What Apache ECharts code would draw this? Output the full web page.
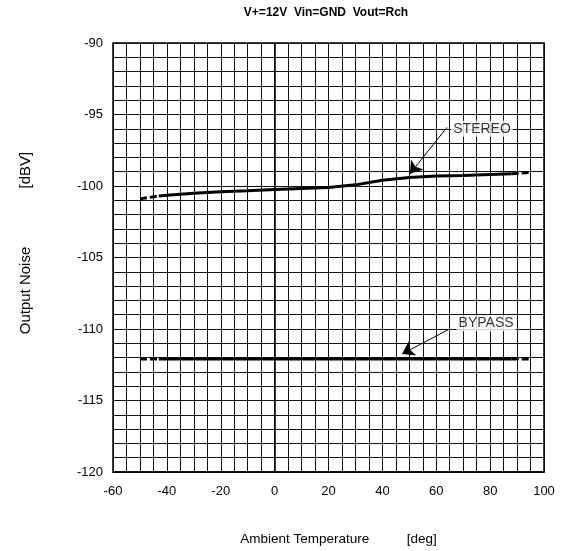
<!DOCTYPE html>
<html>
<head>
<meta charset="utf-8">
<script src="https://cdn.jsdelivr.net/npm/echarts@6/dist/echarts.min.js"></script>
<style>
html,body{margin:0;padding:0;background:#fff;}
#chart{width:561px;height:551px;}
</style>
</head>
<body>
<div id="chart"></div>
<script>
// ---- data ----
var titleText = 'V+=12V  Vin=GND  Vout=Rch';
var xAxisName = 'Ambient Temperature          [deg]';
var yAxisName = 'Output Noise              [dBV]';

var stereoTemp  = [-50, -43, -40, -30, -20, -10, 0, 10, 20, 30, 40, 50, 60, 70, 80, 88, 95];
var stereoNoise = [-100.9, -100.7, -100.64, -100.5, -100.4, -100.33, -100.25, -100.17, -100.1, -99.92, -99.6, -99.4, -99.3, -99.26, -99.2, -99.15, -99.05];

var bypassTemp  = [-50, -43, 88, 95];
var bypassNoise = [-112.1, -112.1, -112.1, -112.1];

var stereoLabel = ['STEREO', 77, -96];
var bypassLabel = ['BYPASS', 78.5, -109.6];
var stereoArrow = [[64, -95.9], [50.2, -99.15]];
var bypassArrow = [[64.4, -110.05], [47.3, -111.75]];

// ---- build ----
function pts(xs, ys, a, b) {
  var out = [];
  for (var i = a; i <= b; i++) out.push([xs[i], ys[i]]);
  return out;
}
var FONT = "'Liberation Sans', Arial, sans-serif";
var lw = 3;

function lineSeries(data, dashed) {
  return {
    type: 'line', data: data, showSymbol: false, symbol: 'none', silent: true,
    lineStyle: { color: '#000', width: lw, type: dashed ? [7, 3] : 'solid' },
    z: 5
  };
}

var sN = stereoTemp.length, bN = bypassTemp.length;
var series = [
  lineSeries(pts(stereoTemp, stereoNoise, 0, 1), true),
  lineSeries(pts(stereoTemp, stereoNoise, 1, sN - 2), false),
  lineSeries(pts(stereoTemp, stereoNoise, sN - 2, sN - 1), true),
  lineSeries(pts(bypassTemp, bypassNoise, 0, 1), true),
  lineSeries(pts(bypassTemp, bypassNoise, 1, bN - 2), false),
  lineSeries(pts(bypassTemp, bypassNoise, bN - 2, bN - 1), true),
  {
    type: 'lines', coordinateSystem: 'cartesian2d', silent: true, z: 6,
    symbol: ['none', 'arrow'], symbolSize: [0, 12],
    lineStyle: { color: '#000', width: 1, opacity: 1 },
    data: [{ coords: stereoArrow }, { coords: bypassArrow }]
  },
  {
    type: 'scatter', symbolSize: 0, silent: true, z: 7,
    data: [
      { value: [stereoLabel[1], stereoLabel[2]], name: stereoLabel[0] },
      { value: [bypassLabel[1], bypassLabel[2]], name: bypassLabel[0] }
    ],
    label: {
      show: true, position: 'inside', formatter: '{b}',
      color: '#000', fontSize: 14, fontFamily: FONT,
      backgroundColor: '#fff', padding: [1, 2]
    }
  }
];

var chart = echarts.init(document.getElementById('chart'), null, { renderer: 'canvas' });
chart.setOption({
  animation: false,
  backgroundColor: '#fff',
  grid: { left: 113, right: 17, top: 43, bottom: 78, show: true, borderColor: '#000', borderWidth: 1.5 },
  graphic: [{
    type: 'text', x: 326, y: 13,
    style: { text: titleText, textAlign: 'center', textVerticalAlign: 'middle',
      font: "bold 12px 'Liberation Sans', Arial, sans-serif", fill: '#000' }
  }],
  xAxis: {
    type: 'value', min: -60, max: 100, interval: 20,
    name: xAxisName, nameLocation: 'middle', nameGap: 60,
    nameTextStyle: { color: '#000', fontSize: 13.5, fontFamily: FONT, padding: [0, 0, 0, 20] },
    axisLine: { show: true, lineStyle: { color: '#000', width: 1.5 } },
    axisTick: { show: false },
    axisLabel: { color: '#000', fontSize: 13, fontFamily: FONT, margin: 13 },
    splitLine: { show: true, lineStyle: { color: '#111', width: 1 } },
    minorTick: { show: false, splitNumber: 4 },
    minorSplitLine: { show: true, lineStyle: { color: '#111', width: 1 } }
  },
  yAxis: {
    type: 'value', min: -120, max: -90, interval: 5,
    name: yAxisName, nameLocation: 'middle', nameGap: 80,
    nameTextStyle: { color: '#000', fontSize: 15, fontFamily: FONT, padding: [0, 0, 0, 29] },
    axisLine: { show: true, lineStyle: { color: '#000', width: 1.5 } },
    axisTick: { show: false },
    axisLabel: { color: '#000', fontSize: 13, fontFamily: FONT, margin: 10 },
    splitLine: { show: true, lineStyle: { color: '#111', width: 1 } },
    minorTick: { show: false, splitNumber: 5 },
    minorSplitLine: { show: true, lineStyle: { color: '#111', width: 1 } }
  },
  series: series
});
</script>
</body>
</html>
